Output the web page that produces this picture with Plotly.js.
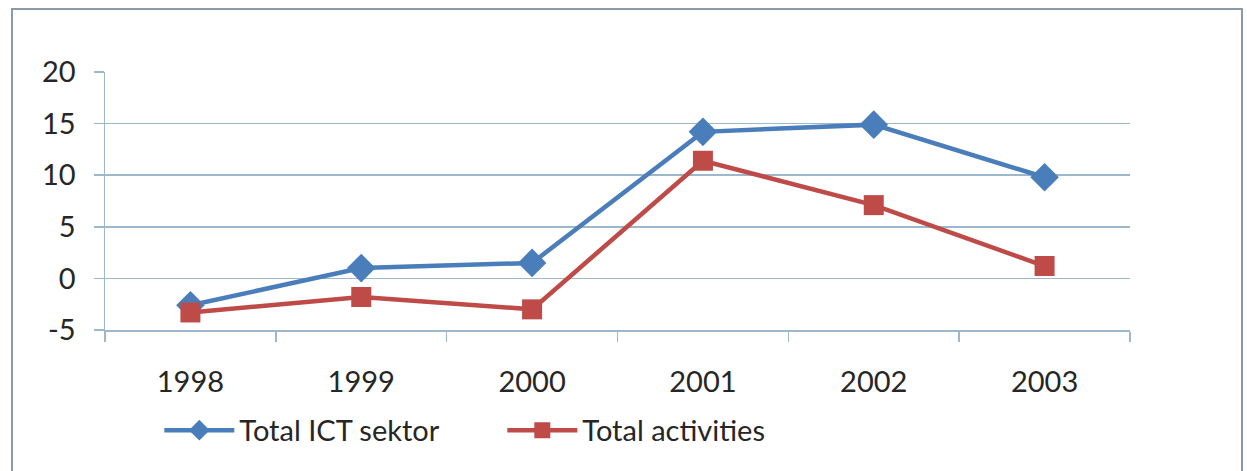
<!DOCTYPE html>
<html>
<head>
<meta charset="utf-8">
<script src="https://cdn.plot.ly/plotly-3.0.1.min.js"></script>
<style>
  html, body { margin: 0; padding: 0; background: #ffffff; }
  #chart { width: 1247px; height: 471px; }
  #frame { position: absolute; left: 11px; top: 8px; width: 1232px; height: 470px;
           border: 2px solid #8a9aa8; border-bottom: none; pointer-events: none; box-sizing: border-box; }
</style>
</head>
<body>
<div id="chart"></div>
<div id="frame"></div>
<script>
const years = ["1998", "1999", "2000", "2001", "2002", "2003"];
const ictSektor = [-2.6, 1.0, 1.5, 14.2, 14.9, 9.8];
const totalActivities = [-3.3, -1.8, -3.0, 11.4, 7.1, 1.2];
const yTicks = [-5, 0, 5, 10, 15, 20];

const gridColor = "#9db8cc";
const fontFamily = "Lato, 'Open Sans', sans-serif";
const textColor = "#262626";

const traces = [
  {
    x: years, y: ictSektor, name: "Total ICT sektor", type: "scatter", mode: "lines+markers",
    line: { color: "#4a7ebb", width: 4.5 },
    marker: { symbol: "diamond", size: 22, color: "#4a7ebb" }
  },
  {
    x: years, y: totalActivities, name: "Total activities", type: "scatter", mode: "lines+markers",
    line: { color: "#be4b48", width: 4.5 },
    marker: { symbol: "square", size: 20, color: "#be4b48" }
  }
];

const layout = {
  width: 1247, height: 471,
  margin: { l: 105, r: 117, t: 72, b: 141 },
  paper_bgcolor: "#ffffff", plot_bgcolor: "#ffffff",
  font: { family: fontFamily, size: 29, color: textColor },
  showlegend: true,
  legend: {
    orientation: "h", x: 0.053, xanchor: "left", y: -0.29, yanchor: "top",
    font: { family: fontFamily, size: 29, color: textColor },
    itemwidth: 70, tracegroupgap: 0, entrywidth: 258
  },
  xaxis: {
    type: "category", range: [-0.5, 5.5],
    showgrid: false, zeroline: false,
    showline: true, linecolor: gridColor, linewidth: 1.5,
    ticks: "outside", tickson: "boundaries", ticklen: 10, tickcolor: gridColor, tickwidth: 1.5,
    tickfont: { family: fontFamily, size: 29, color: textColor },
    ticklabelstandoff: 26
  },
  yaxis: {
    range: [-5, 20], tickvals: yTicks, ticktext: yTicks.map(String),
    showgrid: true, gridcolor: gridColor, gridwidth: 1.5,
    zeroline: false,
    showline: true, linecolor: gridColor, linewidth: 1.5,
    ticks: "outside", ticklen: 10, tickcolor: gridColor, tickwidth: 1.5,
    tickfont: { family: fontFamily, size: 29, color: textColor },
    ticklabelstandoff: 12
  }
};

Plotly.newPlot("chart", traces, layout, { displayModeBar: false, staticPlot: true });
</script>
</body>
</html>
